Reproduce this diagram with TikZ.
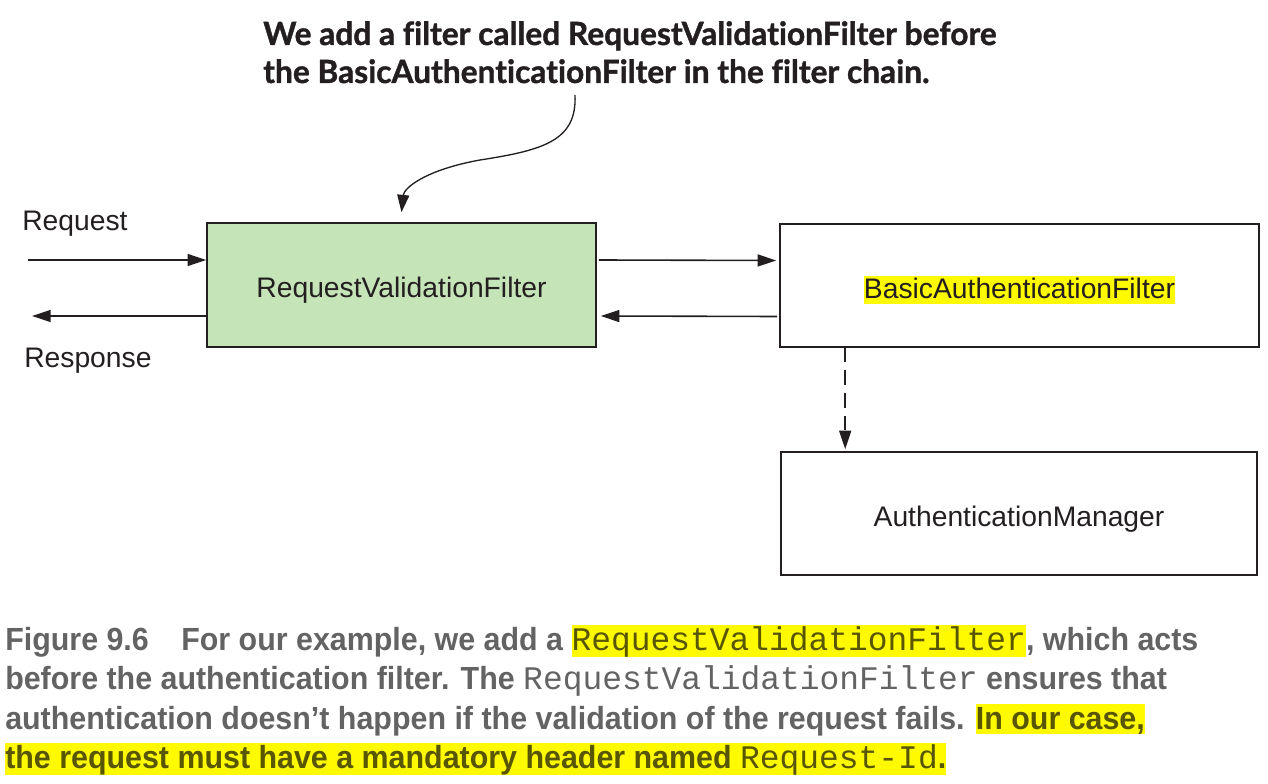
\documentclass[tikz,border=0pt]{standalone}
\usepackage{fontspec}
\setmainfont{Liberation Sans}
\newfontfamily\titlefont[FakeStretch=0.99, Ligatures=NoCommon, BoldFeatures={FakeBold=1.2}]{Lato}
\newfontfamily\capfont[FakeStretch=0.95]{Liberation Sans}
\newfontfamily\capmonofont{Liberation Mono}
\usetikzlibrary{arrows.meta,calc}
\definecolor{boxgreen}{RGB}{197,228,183}
\definecolor{hly}{RGB}{255,250,0}
\definecolor{capgray}{RGB}{99,99,99}
\definecolor{hltext}{RGB}{88,86,0}
\definecolor{ink}{RGB}{35,31,32}
\newcommand\hlcap[1]{{\setlength{\fboxsep}{0pt}\colorbox{hly}{\rule[-3.75pt]{0pt}{22.5pt}\color{hltext}#1}}}
\newcommand\hlbox[1]{{\setlength{\fboxsep}{0pt}\colorbox{hly}{\rule[-4.5pt]{0pt}{21pt}#1}}}
\newcommand\capmono[1]{{\capmonofont\mdseries\fontsize{24.7}{28}\selectfont #1}}
\tikzset{
  boxnode/.style={draw=ink, line width=1.2pt, rectangle, inner sep=0pt, text=ink,
    font=\fontsize{21.2}{24}\selectfont, text height=20pt, text depth=0.5pt},
  lbl/.style={anchor=base west, inner sep=0pt, text=ink, font=\fontsize{21.2}{24}\selectfont},
  arr/.style={draw=ink, line width=1.2pt, -{Triangle[length=14pt,width=9pt]}},
  darr/.style={arr, dash pattern=on 11pt off 6pt},
  carr/.style={draw=ink, line width=1pt, -{Triangle[length=13pt,width=9pt]}},
  ttl/.style={anchor=base west, inner sep=0pt, text=ink, font=\titlefont\bfseries\fontsize{24}{28}\selectfont},
  captxt/.style={anchor=base west, inner sep=0pt, text=capgray, font=\capfont\bfseries\fontsize{24}{28}\selectfont},
}
\begin{document}
\begin{tikzpicture}[x=0.75pt, y=-0.75pt]
\useasboundingbox (0,0) rectangle (1268,784);
% boxes
\node[boxnode, fill=boxgreen, minimum width=291.75pt, minimum height=93pt] (b1) at (401.5,285) {RequestValidationFilter};
\node[boxnode, fill=white, minimum width=359.25pt, minimum height=92.25pt] (b2) at (1019.5,285.5) {\hlbox{BasicAuthenticationFilter}};
\node[boxnode, fill=white, minimum width=357pt, minimum height=92.25pt] (b3) at (1019,513.5) {AuthenticationManager};
% labels
\node[lbl] (req) at (22,231) {Request};
\node[lbl] (resp) at (24,368) {Response};
\coordinate (reqin) at (28,260);
\coordinate (respout) at (32,316);
% arrows
\draw[arr] (reqin) -- (reqin -| b1.west);
\draw[arr] (respout -| b1.west) -- (respout);
\draw[arr] ($(b1.east)+(2,-25)$) -- ($(b2.west)+(-3,-25)$);
\draw[arr] ($(b2.west)+(-2,31)$) -- ($(b1.east)+(4,31)$);
\draw[darr] ($(b2.south west)+(66,0)$) -- ($(b3.north west)+(65,-2)$);
% title
\node[ttl] (t1) at (263,45) {We add a filter called RequestValidationFilter before};
\node[ttl] (t2) at (263,83) {the BasicAuthenticationFilter in the filter chain.};
\coordinate (cstart) at (575,95);
\draw[carr] (cstart) .. controls (577,140) and (545,150) .. (480,160) .. controls (425,170) and (404,188) .. ($(b1.north)+(0,-10)$);
% caption
\node[captxt] (c1) at (5,650) {\makebox[107pt][l]{Figure 9.6}\hspace*{25pt}For our example, we add a \hlcap{\capmono{RequestValidationFilter}}, which acts};
\node[captxt] (c2) at (5,689) {before the authentication filter. The \capmono{RequestValidationFilter} ensures that};
\node[captxt] (c3) at (5,729) {authentication doesn’t happen if the validation of the request fails. \hlcap{In our case,}};
\node[captxt] (c4) at (5,768) {\hlcap{the request must have a mandatory header named \capmono{Request-Id}.}};
\end{tikzpicture}
\end{document}
